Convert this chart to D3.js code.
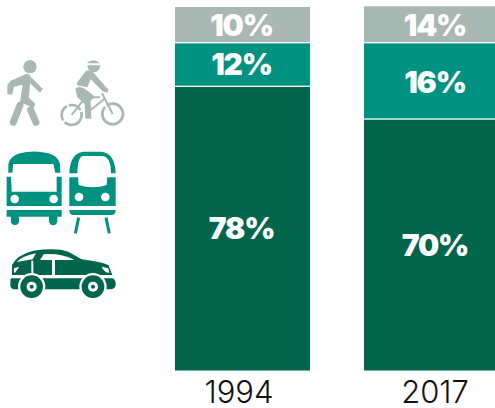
<!DOCTYPE html>
<html><head><meta charset="utf-8">
<script src="https://cdn.jsdelivr.net/npm/d3@7/dist/d3.min.js"></script>
<style>html,body{margin:0;padding:0;background:#fff;overflow:hidden}svg{display:block}</style>
</head><body><svg id="c" width="495" height="408"></svg>
<script>
// Data
const years = ["1994", "2017"];
const modes = ["car", "transit", "active"];
// Printed labels
const carLabels = ["78%", "70%"];
const transitLabels = ["12%", "16%"];
const activeLabels = ["10%", "14%"];
// Segment heights as drawn in the picture (the 2017 bar is not drawn to its printed labels)
const carHeights = [78, 69];
const transitHeights = [12, 21];
const activeHeights = [10, 10.2];

const colors = {car:"#00654a", transit:"#009280", active:"#a9b8b2"};
const svg = d3.select("#c");
const x = d3.scaleBand().domain(years).range([175, 499]).paddingInner(54/189);
const y = d3.scaleLinear().domain([0, 100]).range([370.5, 7]);
const heights = {car:carHeights, transit:transitHeights, active:activeHeights};
const labels = {car:carLabels, transit:transitLabels, active:activeLabels};
const labelDy = {car:[10.5,11],transit:[9.5,11.5],active:[10.5,11.5]};
const labelDx = [-1, 3.5];

years.forEach((yr, i) => {
  let acc = 0;
  modes.forEach((m, k) => {
    const v = heights[m][i], y0 = y(acc), y1 = y(acc + v);
    svg.append("rect").attr("x", x(yr)).attr("width", x.bandwidth())
      .attr("y", y1).attr("height", y0 - y1 - (k ? 1.3 : 0)).attr("fill", colors[m]);
    svg.append("text")
      .attr("x", x(yr) + x.bandwidth()/2 + labelDx[i])
      .attr("y", (y0 + y1)/2 + labelDy[m][i])
      .attr("text-anchor","middle").attr("fill","#fff")
      .attr("font-family","Inter, sans-serif").attr("font-weight",900).attr("font-size",30)
      .attr("letter-spacing",-1.2)
      .text(labels[m][i]);
    acc += v;
  });
  svg.append("text")
    .attr("x", x(yr) + x.bandwidth()/2 + labelDx[i] - (i?0:2.5))
    .attr("y", 403).attr("text-anchor","middle").attr("fill","#111")
    .attr("font-family","Inter, sans-serif").attr("font-weight",300).attr("font-size",31)
    .text(yr);
});

// Icons (in 3x crop coordinates)
const walk = svg.append("g").attr("transform","translate(0,40) scale(0.3333)");
const G = colors.active;
walk.append("circle").attr("cx",90).attr("cy",80).attr("r",20).attr("fill",G);
walk.append("path").attr("fill",G).attr("d","M32,122 L78,102 Q90,100 93,112 L86,172 L106,192 L100,204 L60,186 L68,134 L42,140 L36,165 L22,162 L22,135 Z");
walk.append("path").attr("fill",G).attr("d","M94,112 L128,146 L120,158 L90,130 Z");
walk.append("path").attr("stroke",G).attr("stroke-width",21).attr("stroke-linecap","round").attr("fill","none").attr("d","M60,196 L40,247 M92,210 L108,247");
// cyclist
walk.append("path").attr("fill",G).attr("d","M262,68 Q282,52 300,70 L262,70 Z M262,76 L301,76 Q298,98 280,97 Q264,95 262,76 Z");
walk.append("path").attr("fill",G).attr("d","M230,130 L258,92 Q272,88 282,100 L318,142 L326,148 L322,158 L308,154 L272,118 L262,142 L232,136 Z");
walk.append("path").attr("fill",G).attr("d","M226,146 Q235,136 255,146 L285,170 L272,182 L274,236 L256,236 L254,192 L232,172 Z");
walk.append("g").attr("fill","none").attr("stroke",G).attr("stroke-width",8).call(g=>{
  g.append("circle").attr("cx",215).attr("cy",225).attr("r",30).attr("stroke-dasharray","70 6 50 6 40 6");
  g.append("circle").attr("cx",338).attr("cy",222).attr("r",31).attr("stroke-dasharray","120 6 70 6");
  g.append("path").attr("stroke-width",6).attr("d","M215,225 L252,178 M306,160 L338,222 M272,210 L312,178 M262,172 L300,172");
});
const T = colors.transit;
const tr = svg.append("g").attr("transform","translate(0,140) scale(0.3333)").attr("fill",T);
tr.append("path").attr("d","M25,98 L25,72 Q30,48 60,40 Q100,29 145,40 Q175,48 180,72 L181,98 L166,98 L160,72 L40,72 L37,98 Z");
tr.append("path").attr("d","M20,110 L33,110 L35,155 L170,155 L170,110 L185,110 L185,198 L20,198 Z");
tr.append("path").attr("d","M20,210 H185 V230 H172 V243 A12,12 0 0 1 147,243 V230 H57 V243 A12,12 0 0 1 33,243 V230 H20 Z");
tr.append("path").attr("d","M208,100 Q210,40 250,35 L305,35 Q345,40 347,100 L333,100 Q333,48 305,48 L250,48 Q233,48 232,100 Z");
tr.append("path").attr("d","M208,112 L234,112 L236,135 Q280,148 320,135 L322,112 L347,112 L347,198 L208,198 Z");
tr.append("path").attr("d","M208,210 H347 Q347,225 335,225 H220 Q208,225 208,210 Z");
tr.append("path").attr("fill","none").attr("stroke",T).attr("stroke-width",9).attr("d","M236,233 L226,280 M318,233 L328,280");
[[44,177],[161,177],[237,171],[316,171]].forEach(p=>tr.append("circle").attr("cx",p[0]).attr("cy",p[1]).attr("r",13).attr("fill","#fff"));
const C = colors.car;
const car = svg.append("g").attr("transform","translate(0,140) scale(0.3333)").attr("fill",C);
car.append("path").attr("d","M36,405 L36,375 Q50,345 100,332 Q170,322 205,335 L245,358 Q300,365 325,375 L337,405 Z");
car.append("path").attr("d","M32,415 H338 Q348,420 347,435 Q345,448 330,448 H40 Q30,445 31,430 Z");
car.append("g").attr("fill","#fff").call(g=>{
  g.append("path").attr("d","M50,366 Q62,350 108,340 L98,358 Z");
  g.append("path").attr("d","M120,360 L131,343 Q180,338 224,360 Z");
  g.append("path").attr("d","M305,380 L325,385 L328,398 Q312,398 305,380 Z");
  g.append("path").attr("d","M42,385 L58,380 L45,398 L42,398 Z");
  g.append("rect").attr("x",156).attr("y",360).attr("width",9).attr("height",50);
  g.append("path").attr("d","M94,362 L100,362 L100,410 L94,410 Z");
});
[[95,440],[279,440]].forEach(p=>{
  car.append("circle").attr("cx",p[0]).attr("cy",p[1]).attr("r",41).attr("fill","#fff");
  car.append("circle").attr("cx",p[0]).attr("cy",p[1]).attr("r",34);
  car.append("circle").attr("cx",p[0]).attr("cy",p[1]).attr("r",15).attr("fill","#fff");
  car.append("circle").attr("cx",p[0]).attr("cy",p[1]).attr("r",6);
});
</script></body></html>
